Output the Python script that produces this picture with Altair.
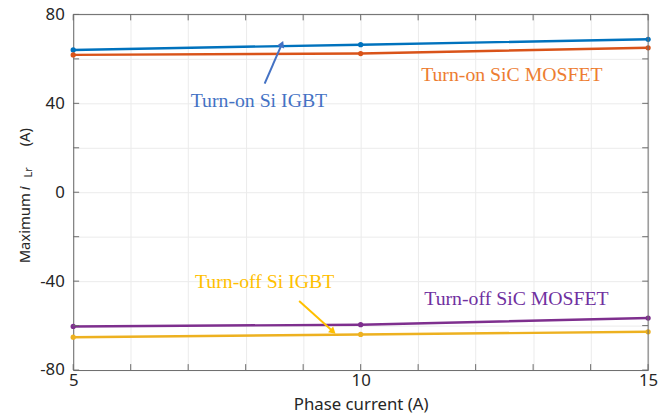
import altair as alt
import pandas as pd

# ---- data ----
phase_current = [5, 10, 15]
turn_on_si_igbt = [64.0, 66.4, 68.8]
turn_on_sic_mosfet = [61.8, 62.4, 65.0]
turn_off_sic_mosfet = [-60.4, -59.6, -56.6]
turn_off_si_igbt = [-65.2, -64.0, -62.8]

series_names = ["Turn-on Si IGBT", "Turn-on SiC MOSFET", "Turn-off SiC MOSFET", "Turn-off Si IGBT"]
series_values = [turn_on_si_igbt, turn_on_sic_mosfet, turn_off_sic_mosfet, turn_off_si_igbt]
line_colors = ["#0072BD", "#D95319", "#7E2F8E", "#EDB120"]

x_ticks = list(range(5, 16))
y_ticks = list(range(-80, 81, 20))

# annotations
ann_text = ["Turn-on Si IGBT", "Turn-on SiC MOSFET", "Turn-off Si IGBT", "Turn-off SiC MOSFET"]
ann_x = [8.23, 12.63, 8.33, 12.71]
ann_y = [40.9, 52.9, -40.4, -48.0]
ann_colors = ["#4472C4", "#ED7D31", "#FFC000", "#7030A0"]

arrow_x = [8.33, 8.93]
arrow_y = [48.9, -48.9]
arrow_x2 = [8.63, 9.52]
arrow_y2 = [66.7, -62.7]
arrow_angle = [23, 132]
arrow_colors = ["#4472C4", "#FFC000"]

W, H = 582, 360

rows = []
for name, vals in zip(series_names, series_values):
    for x, v in zip(phase_current, vals):
        rows.append({"x": x, "y": v, "series": name})
df = pd.DataFrame(rows)

xs = alt.Scale(domain=[5, 15], nice=False, zero=False)
ys = alt.Scale(domain=[-80, 80], nice=False, zero=False)
col = alt.Scale(domain=series_names, range=line_colors)

base = alt.Chart(df)
txt_c = "#262626"
grid_c = "#ebebeb"
ax_c = "#6b6b6b"

lines = base.mark_line(strokeWidth=2.5).encode(
    x=alt.X("x:Q", scale=xs, axis=alt.Axis(
        values=x_ticks, labelExpr="datum.value % 5 == 0 ? toString(datum.value) : ''",
        title="Phase current (A)", grid=True, gridColor=grid_c, ticks=False,
        domainColor=ax_c, labelFontSize=17, labelColor=txt_c, labelFont="Noto Sans",
        titleFontSize=17, titleColor=txt_c, titleFont="Noto Sans", titleFontWeight="normal",
        labelPadding=3, titlePadding=8, labelFlush=False, labelOverlap=False)),
    y=alt.Y("y:Q", scale=ys, axis=alt.Axis(
        values=y_ticks, labelExpr="datum.value % 40 == 0 ? toString(datum.value) : ''",
        title=None, grid=True, gridColor=grid_c, ticks=False,
        domainColor=ax_c, labelFontSize=17, labelColor=txt_c, labelFont="Noto Sans",
        labelPadding=9, labelFlush=False, labelOverlap=False)),
    color=alt.Color("series:N", scale=col, legend=None),
    detail="series:N",
)
points = base.mark_circle(size=28, opacity=1).encode(
    x=alt.X("x:Q", scale=xs), y=alt.Y("y:Q", scale=ys),
    color=alt.Color("series:N", scale=col, legend=None),
)

# box: top and right borders
box = alt.Chart(pd.DataFrame({"a": [0]})).mark_rule(color=ax_c, strokeWidth=1).encode(
    x=alt.value(0), x2=alt.value(W), y=alt.value(0))
box2 = alt.Chart(pd.DataFrame({"a": [0]})).mark_rule(color=ax_c, strokeWidth=1).encode(
    x=alt.value(W), y=alt.value(0), y2=alt.value(H))

# inward ticks
xt = pd.DataFrame({"t": x_ticks})
yt = pd.DataFrame({"t": y_ticks})
xt_bot = alt.Chart(xt).mark_rule(color=ax_c).encode(x=alt.X("t:Q", scale=xs), y=alt.value(H), y2=alt.value(H - 6))
xt_top = alt.Chart(xt).mark_rule(color=ax_c).encode(x=alt.X("t:Q", scale=xs), y=alt.value(0), y2=alt.value(6))
yt_l = alt.Chart(yt).mark_rule(color=ax_c).encode(y=alt.Y("t:Q", scale=ys), x=alt.value(0), x2=alt.value(6))
yt_r = alt.Chart(yt).mark_rule(color=ax_c).encode(y=alt.Y("t:Q", scale=ys), x=alt.value(W), x2=alt.value(W - 6))

ann_df = pd.DataFrame({"text": ann_text, "x": ann_x, "y": ann_y, "c": ann_colors})
ann = alt.Chart(ann_df).mark_text(font="Liberation Serif", fontSize=20, align="center", baseline="middle").encode(
    x=alt.X("x:Q", scale=xs), y=alt.Y("y:Q", scale=ys), text="text:N",
    color=alt.Color("c:N", scale=None))

arr_df = pd.DataFrame({"x": arrow_x, "y": arrow_y, "x2": arrow_x2, "y2": arrow_y2,
                       "ang": arrow_angle, "c": arrow_colors})
arr_line = alt.Chart(arr_df).mark_rule(strokeWidth=2).encode(
    x=alt.X("x:Q", scale=xs), y=alt.Y("y:Q", scale=ys),
    x2="x2:Q", y2="y2:Q", color=alt.Color("c:N", scale=None))
arr_head = alt.Chart(arr_df).mark_point(shape="triangle-up", filled=True, size=60, opacity=1).encode(
    x=alt.X("x2:Q", scale=xs), y=alt.Y("y2:Q", scale=ys),
    angle=alt.Angle("ang:Q", scale=None), color=alt.Color("c:N", scale=None))

# y title pieces (rotated)
yt_df = pd.DataFrame({"a": [0]})
tf = "Noto Sans"
yt1 = alt.Chart(yt_df).mark_text(text="Maximum", angle=270, align="left", baseline="middle",
                                 fontSize=15, font=tf, color=txt_c).encode(
    x=alt.value(-49), y=alt.value(252))
yt2 = alt.Chart(yt_df).mark_text(text="i", angle=270, align="left", baseline="middle",
                                 fontSize=15, font=tf, fontStyle="italic", color=txt_c).encode(
    x=alt.value(-49), y=alt.value(178))
yt3 = alt.Chart(yt_df).mark_text(text="Lr", angle=270, align="left", baseline="middle",
                                 fontSize=11, font=tf, color=txt_c).encode(
    x=alt.value(-45), y=alt.value(165))
yt4 = alt.Chart(yt_df).mark_text(text="(A)", angle=270, align="right", baseline="middle",
                                 fontSize=15, font=tf, color=txt_c).encode(
    x=alt.value(-49), y=alt.value(115))

chart = alt.layer(
    lines, points, box, box2, xt_bot, xt_top, yt_l, yt_r,
    arr_line, arr_head, ann, yt1, yt2, yt3, yt4
).properties(
    width=W, height=H, autosize="none",
    padding={"left": 66, "top": 4, "right": 10, "bottom": 43},
).configure_view(stroke=None).configure(background="white")

chart.save("out.html", embed_options={"renderer": "svg", "actions": False})
